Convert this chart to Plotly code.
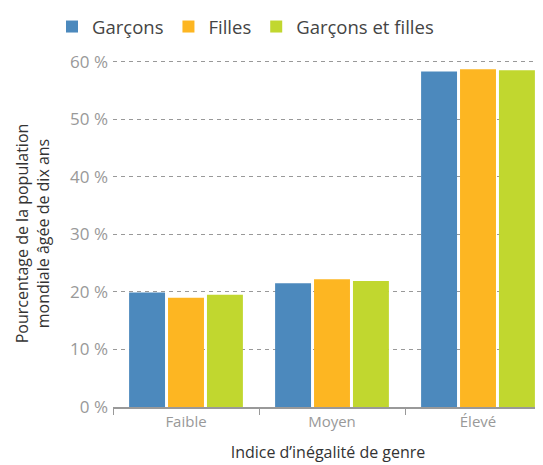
import plotly.graph_objects as go

categories = ["Faible", "Moyen", "Élevé"]
garcons = [19.9, 21.5, 58.3]
filles = [19.0, 22.2, 58.7]
garcons_filles = [19.5, 21.9, 58.5]
y_ticks = [0, 10, 20, 30, 40, 50, 60]
y_tick_labels = ["0 %", "10 %", "20 %", "30 %", "40 %", "50 %", "60 %"]

series = [
    ("Garçons", garcons, "#4C89BD"),
    ("Filles", filles, "#FDB622"),
    ("Garçons et filles", garcons_filles, "#C1D72F"),
]

fig = go.Figure()
for name, vals, col in series:
    fig.add_trace(go.Bar(x=categories, y=vals, name=name, marker_color=col,
                         marker_line_width=0))

fig.update_layout(
    width=535, height=457,
    margin=dict(l=105, r=0, t=52, b=58),
    paper_bgcolor="white", plot_bgcolor="white",
    font=dict(family="Open Sans, sans-serif", color="#333"),
    barmode="group", bargap=0.2, bargroupgap=0.077,
    legend=dict(orientation="h", x=44 / 535, xanchor="left", xref="container",
                y=1.0, yanchor="top", yref="container",
                font=dict(size=18.5, color="#444"), valign="middle",
                itemwidth=30, traceorder="normal"),
    showlegend=True,
)
fig.update_xaxes(
    type="category", range=[-0.5, -0.5 + 430 / 146],
    tickson="boundaries", ticks="outside", ticklen=6, tickcolor="#999",
    showline=True, linecolor="#999", linewidth=1.5,
    tickfont=dict(size=15, color="#999"),
    title=dict(text="Indice d’inégalité de genre", font=dict(size=16, color="#333"),
               standoff=17),
    showgrid=False,
)
fig.update_yaxes(
    range=[0, 60.3], tickvals=y_ticks, ticktext=y_tick_labels,
    tickfont=dict(size=17, color="#999"), ticklabelstandoff=4,
    showgrid=True, gridcolor="#999", griddash="4px,4px", gridwidth=1,
    zeroline=False, showline=False, ticks="",
    title=dict(text="Pourcentage de la population<br>mondiale âgée de dix ans",
               font=dict(size=16, color="#333"), standoff=16),
)
fig.write_html("out.html")
